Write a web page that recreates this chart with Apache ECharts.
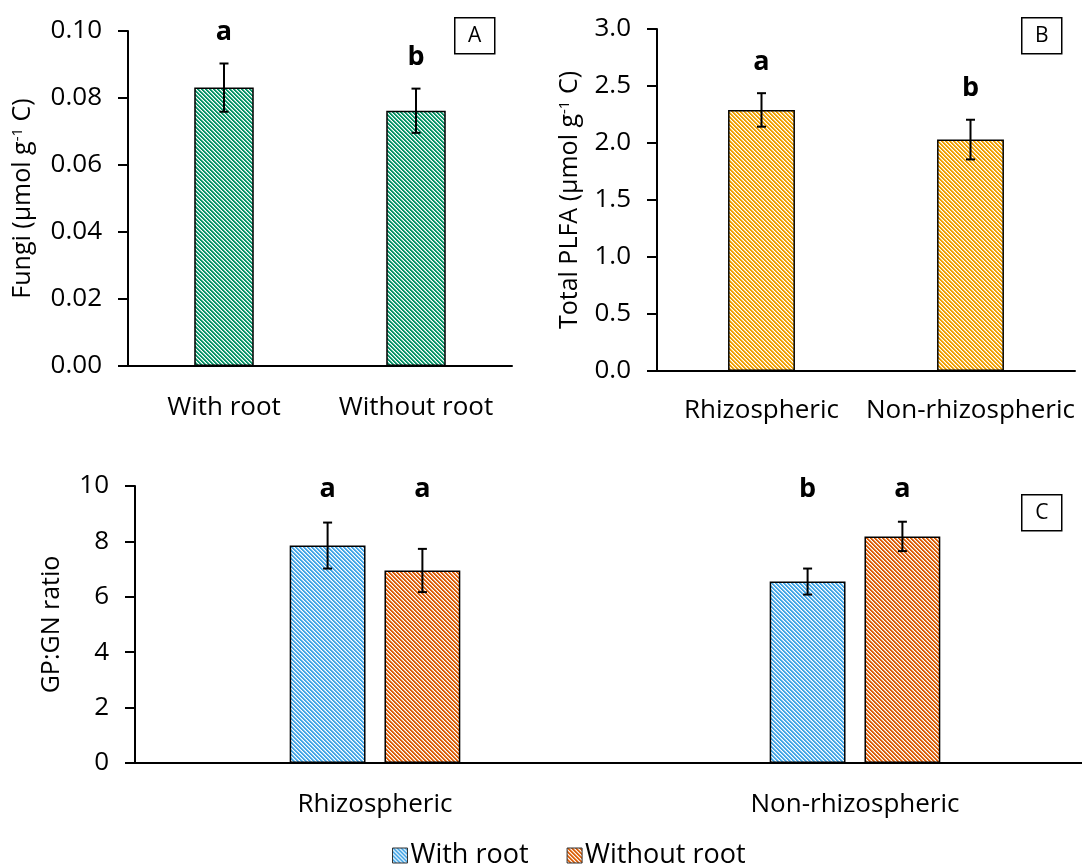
<!DOCTYPE html>
<html>
<head>
<meta charset="utf-8">
<script src="https://cdn.jsdelivr.net/npm/echarts@6/dist/echarts.min.js"></script>
<style>
  html, body { margin: 0; padding: 0; background: #fff; overflow: hidden; }
  #chart { width: 1100px; height: 865px; }
</style>
</head>
<body>
<div id="chart"></div>
<script>
// Panel A: fungal PLFA
const fungiCats = ['With root', 'Without root'];
const fungiMean = [0.0831, 0.0762];
const fungiErr = [0.0072, 0.0066];
const fungiLetters = ['a', 'b'];

// Panel B: total PLFA
const plfaCats = ['Rhizospheric', 'Non-rhizospheric'];
const plfaMean = [2.29, 2.03];
const plfaErr = [0.147, 0.174];
const plfaLetters = ['a', 'b'];

// Panel C: GP:GN ratio
const ratioCats = ['Rhizospheric', 'Non-rhizospheric'];
const withRootRatio = [7.85, 6.55];
const withRootErr = [0.83, 0.47];
const withRootLetters = ['a', 'b'];
const withoutRootRatio = [6.95, 8.18];
const withoutRootErr = [0.78, 0.53];
const withoutRootLetters = ['a', 'a'];

const FONT = 'Open Sans';

// Diagonal hatch fill: colour stripes on white, with a soft edge pixel
function hatch(color) {
  const n = 4;
  const c = document.createElement('canvas');
  c.width = n; c.height = n;
  const ctx = c.getContext('2d');
  ctx.fillStyle = '#ffffff';
  ctx.fillRect(0, 0, n, n);
  for (let y = 0; y < n; y++) {
    for (let x = 0; x < n; x++) {
      const m = (((x - y) % n) + n) % n;
      if (m < 2) {
        ctx.globalAlpha = 1;
        ctx.fillStyle = color;
        ctx.fillRect(x, y, 1, 1);
      } else if (m === 2) {
        ctx.globalAlpha = 0.45;
        ctx.fillStyle = color;
        ctx.fillRect(x, y, 1, 1);
      }
    }
  }
  ctx.globalAlpha = 1;
  return { image: c, repeat: 'repeat' };
}

const green = hatch('#089468');
const gold = hatch('#f0a000');
const blue = hatch('#45a6e6');
const orange = hatch('#dc5e08');

const barStyle = (fill) => ({ color: fill, borderColor: '#000', borderWidth: 1.5 });

// Error bars (and significance letters) drawn from mean ± error
function errorSeries(xi, yi, means, errs, letters, opts) {
  return {
    type: 'custom',
    xAxisIndex: xi,
    yAxisIndex: yi,
    z: 10,
    silent: true,
    data: means.map((m, i) => [i, m, errs[i]]),
    renderItem(params, api) {
      const i = api.value(0), m = api.value(1), e = api.value(2);
      const band = api.size([1, 0])[0];
      const off = opts.offset ? opts.offset(band) : 0;
      const top = api.coord([i, m + e]);
      const bot = api.coord([i, m - e]);
      const x = top[0] + off;
      const cap = 4.5;
      const ls = { stroke: '#000', lineWidth: 2 };
      const ty = opts.letterAtTop ? params.coordSys.y + 3 : top[1] - 31;
      return {
        type: 'group',
        children: [
          { type: 'line', shape: { x1: x, y1: top[1], x2: x, y2: bot[1] }, style: ls },
          { type: 'line', shape: { x1: x - cap, y1: top[1], x2: x + cap, y2: top[1] }, style: ls },
          { type: 'line', shape: { x1: x - cap, y1: bot[1], x2: x + cap, y2: bot[1] }, style: ls },
          {
            type: 'text',
            style: {
              text: letters[i], x: x, y: ty, align: 'center', verticalAlign: 'middle',
              font: 'bold 27px "' + FONT + '"', fill: '#000'
            }
          }
        ]
      };
    }
  };
}

function valueAxis(grid, max, interval, digits, name, gap) {
  return {
    type: 'value', gridIndex: grid, min: 0, max: max, interval: interval,
    name: name, nameLocation: 'middle', nameGap: gap, nameRotate: 90,
    nameTextStyle: {
      fontFamily: FONT, fontSize: 25, color: '#000',
      rich: {
        t: { fontFamily: FONT, fontSize: 25, color: '#000' },
        sup: { fontFamily: FONT, fontSize: 15, color: '#000', verticalAlign: 'top', lineHeight: 15 }
      }
    },
    axisLine: { show: true, lineStyle: { color: '#000', width: 2 } },
    axisTick: { show: true, length: 10, lineStyle: { color: '#000', width: 2 } },
    splitLine: { show: false },
    axisLabel: {
      fontFamily: FONT, fontSize: 26, color: '#000', margin: 26,
      formatter: (v) => v.toFixed(digits)
    }
  };
}

function catAxis(grid, cats, margin) {
  return {
    type: 'category', gridIndex: grid, data: cats,
    axisLine: { show: true, lineStyle: { color: '#000', width: 2 } },
    axisTick: { show: false },
    axisLabel: { fontFamily: FONT, fontSize: 26, color: '#000', margin: margin, interval: 0 }
  };
}

function panelBox(letter, x, y) {
  return {
    type: 'group', left: x, top: y,
    children: [
      { type: 'rect', shape: { x: 0, y: 0, width: 40, height: 36 }, style: { fill: '#fff', stroke: '#000', lineWidth: 1.5 } },
      { type: 'text', x: 20, y: 18, style: { text: letter, align: 'center', verticalAlign: 'middle', font: '21px "' + FONT + '"', fill: '#000' } }
    ]
  };
}

const chart = echarts.init(document.getElementById('chart'), null, { renderer: 'canvas' });

const groupOffset = (sign) => (band) => sign * 0.625 * band * 0.158;

chart.setOption({
  animation: false,
  backgroundColor: '#fff',
  grid: [
    { left: 128, top: 31, width: 384, height: 335 },
    { left: 657, top: 29, width: 418, height: 342 },
    { left: 135, top: 486, width: 960, height: 277 }
  ],
  xAxis: [
    catAxis(0, fungiCats, 29),
    catAxis(1, plfaCats, 27),
    catAxis(2, ratioCats, 29)
  ],
  yAxis: [
    valueAxis(0, 0.1, 0.02, 2, '{t|Fungi (µmol g}{sup|-1}{t| C)}', 93),
    valueAxis(1, 3, 0.5, 1, '{t|Total PLFA (µmol g}{sup|-1}{t| C)}', 75),
    valueAxis(2, 10, 2, 0, '{t|GP:GN ratio}', 71)
  ],
  legend: {
    data: ['With root', 'Without root'],
    left: 392, top: 842, padding: 0,
    itemWidth: 15, itemHeight: 15, itemGap: 38,
    icon: 'rect',
    itemStyle: { borderColor: '#333', borderWidth: 1 },
    textStyle: { fontFamily: FONT, fontSize: 27, color: '#000', padding: [0, 0, 0, -2] }
  },
  series: [
    { name: 'Fungi', type: 'bar', xAxisIndex: 0, yAxisIndex: 0, barWidth: '31%', data: fungiMean, itemStyle: barStyle(green) },
    errorSeries(0, 0, fungiMean, fungiErr, fungiLetters, {}),
    { name: 'Total PLFA', type: 'bar', xAxisIndex: 1, yAxisIndex: 1, barWidth: '32%', data: plfaMean, itemStyle: barStyle(gold) },
    errorSeries(1, 1, plfaMean, plfaErr, plfaLetters, {}),
    { name: 'With root', type: 'bar', xAxisIndex: 2, yAxisIndex: 2, barWidth: '15.8%', barGap: '25%', data: withRootRatio, itemStyle: barStyle(blue) },
    { name: 'Without root', type: 'bar', xAxisIndex: 2, yAxisIndex: 2, barWidth: '15.8%', barGap: '25%', data: withoutRootRatio, itemStyle: barStyle(orange) },
    errorSeries(2, 2, withRootRatio, withRootErr, withRootLetters, { offset: groupOffset(-1), letterAtTop: true }),
    errorSeries(2, 2, withoutRootRatio, withoutRootErr, withoutRootLetters, { offset: groupOffset(1), letterAtTop: true })
  ],
  graphic: [
    panelBox('A', 454, 17),
    panelBox('B', 1021, 17),
    panelBox('C', 1021, 494)
  ]
});
</script>
</body>
</html>
